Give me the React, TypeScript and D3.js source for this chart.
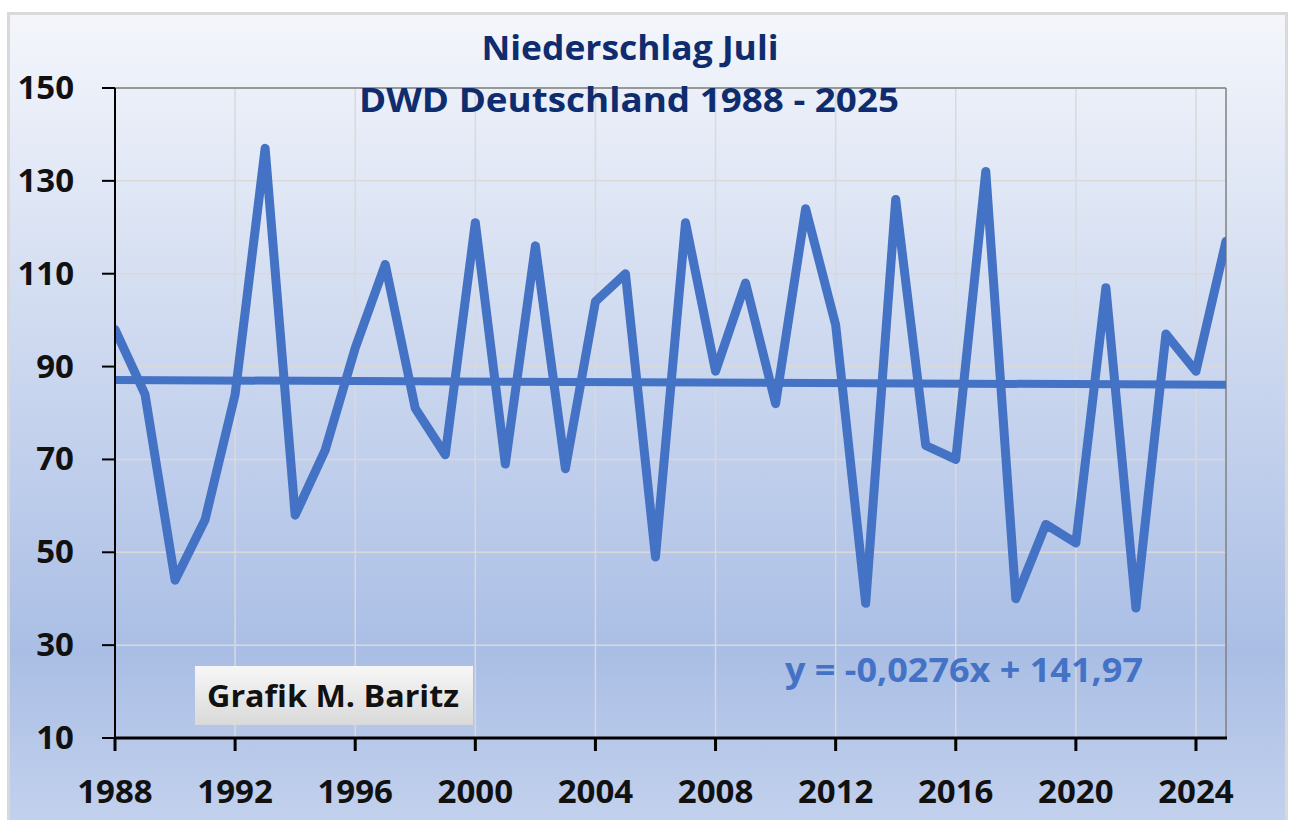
import React from "react";
import * as d3 from "d3";

const years: number[] = [
  1988, 1989, 1990, 1991, 1992, 1993, 1994, 1995, 1996, 1997, 1998, 1999, 2000,
  2001, 2002, 2003, 2004, 2005, 2006, 2007, 2008, 2009, 2010, 2011, 2012, 2013,
  2014, 2015, 2016, 2017, 2018, 2019, 2020, 2021, 2022, 2023, 2024, 2025,
];
const precip: number[] = [
  98, 84, 44, 57, 84, 137, 58, 72, 94, 112, 81, 71, 121,
  69, 116, 68, 104, 110, 49, 121, 89, 108, 82, 124, 99, 39,
  126, 73, 70, 132, 40, 56, 52, 107, 38, 97, 89, 117,
];
const yTicks: number[] = [10, 30, 50, 70, 90, 110, 130, 150];
const xTicks: number[] = [1988, 1992, 1996, 2000, 2004, 2008, 2012, 2016, 2020, 2024];
const trendSlope = -0.0276;
const trendIntercept = 141.97;
const titleLines: string[] = ["Niederschlag Juli", "DWD Deutschland 1988 - 2025"];
const equationText = "y = -0,0276x + 141,97";
const creditText = "Grafik M. Baritz";

const W = 1291;
const H = 820;
const plot = { left: 115, right: 1226, top: 88, bottom: 738 };
const lineColor = "#4472C4";
const font = "'Open Sans', 'Liberation Sans', sans-serif";

export default function App() {
  const x = d3.scaleLinear().domain([1988, 2025]).range([plot.left, plot.right]);
  const y = d3.scaleLinear().domain([10, 150]).range([plot.bottom, plot.top]);

  const data = years.map((yr, i) => ({ yr, v: precip[i] }));
  const line = d3
    .line<{ yr: number; v: number }>()
    .x((d) => x(d.yr))
    .y((d) => y(d.v));
  const trendPts = [1988, 2025].map((yr) => ({ yr, v: trendSlope * yr + trendIntercept }));

  return (
    <svg
      width={W}
      height={H}
      style={{ position: "absolute", left: 0, top: 0, display: "block" }}
    >
      <defs>
        <linearGradient id="bg" x1="0" y1="0" x2="0" y2="1">
          <stop offset="0" stopColor="#F4F6FB" />
          <stop offset="0.78" stopColor="#AABEE5" />
          <stop offset="1" stopColor="#C4D2ED" />
        </linearGradient>
        <linearGradient id="box" x1="0" y1="0" x2="0" y2="1">
          <stop offset="0" stopColor="#F7F7F7" />
          <stop offset="1" stopColor="#D9D9D9" />
        </linearGradient>
        <clipPath id="plotClip">
          <rect x={plot.left} y={plot.top - 10} width={plot.right - plot.left} height={plot.bottom - plot.top + 20} />
        </clipPath>
      </defs>
      <rect x={0} y={0} width={W} height={H} fill="#FFFFFF" />
      <rect x={8.5} y={13.5} width={1278} height={820} fill="url(#bg)" stroke="#D9D9D9" strokeWidth={3} />

      {/* gridlines */}
      {yTicks.map((t) => (
        <line key={"gy" + t} x1={plot.left} x2={plot.right} y1={y(t)} y2={y(t)} stroke="#D9D9D9" strokeWidth={1.5} />
      ))}
      {xTicks.map((t) => (
        <line key={"gx" + t} x1={x(t)} x2={x(t)} y1={plot.top} y2={plot.bottom} stroke="#D9D9D9" strokeWidth={1.5} />
      ))}
      {/* plot border top/right */}
      <line x1={plot.left} x2={plot.right} y1={plot.top} y2={plot.top} stroke="#808080" strokeWidth={1.5} />
      <line x1={plot.right} x2={plot.right} y1={plot.top} y2={plot.bottom} stroke="#808080" strokeWidth={1.5} />

      {/* title */}
      <text x={630} y={60} textAnchor="middle" fontFamily={font} fontWeight={700} fontSize={34} fill="#0F2D6E" textLength={297} lengthAdjust="spacingAndGlyphs">
        {titleLines[0]}
      </text>
      <text x={629} y={112} textAnchor="middle" fontFamily={font} fontWeight={700} fontSize={34} fill="#0F2D6E" textLength={540} lengthAdjust="spacingAndGlyphs">
        {titleLines[1]}
      </text>

      {/* series */}
      <g clipPath="url(#plotClip)">
        <path d={line(trendPts) || ""} fill="none" stroke={lineColor} strokeWidth={8} />
        <path d={line(data) || ""} fill="none" stroke={lineColor} strokeWidth={9} strokeLinejoin="round" strokeLinecap="round" />
      </g>

      {/* axes */}
      <line x1={plot.left} x2={plot.left} y1={plot.top} y2={plot.bottom + 1} stroke="#000" strokeWidth={2} />
      <line x1={plot.left - 1} x2={plot.right + 1} y1={plot.bottom} y2={plot.bottom} stroke="#000" strokeWidth={3} />
      {yTicks.map((t) => (
        <g key={"ty" + t}>
          <line x1={plot.left - 13} x2={plot.left} y1={y(t)} y2={y(t)} stroke="#000" strokeWidth={2} />
          <text x={74} y={y(t) + 11} textAnchor="end" fontFamily={font} fontWeight={700} fontSize={33} fill="#111">
            {t}
          </text>
        </g>
      ))}
      {xTicks.map((t) => (
        <g key={"tx" + t}>
          <line x1={x(t)} x2={x(t)} y1={plot.bottom} y2={plot.bottom + 13} stroke="#000" strokeWidth={3} />
          <text x={x(t)} y={803} textAnchor="middle" fontFamily={font} fontWeight={700} fontSize={33} fill="#111">
            {t}
          </text>
        </g>
      ))}

      {/* equation */}
      <text x={964} y={682} textAnchor="middle" fontFamily={font} fontWeight={700} fontSize={34} fill={lineColor} textLength={358} lengthAdjust="spacingAndGlyphs">
        {equationText}
      </text>

      {/* credit box */}
      <rect x={195} y={666} width={278} height={59} fill="url(#box)" />
      <text x={333} y={707} textAnchor="middle" fontFamily={font} fontWeight={700} fontSize={31} fill="#111" textLength={252} lengthAdjust="spacingAndGlyphs">
        {creditText}
      </text>
    </svg>
  );
}
